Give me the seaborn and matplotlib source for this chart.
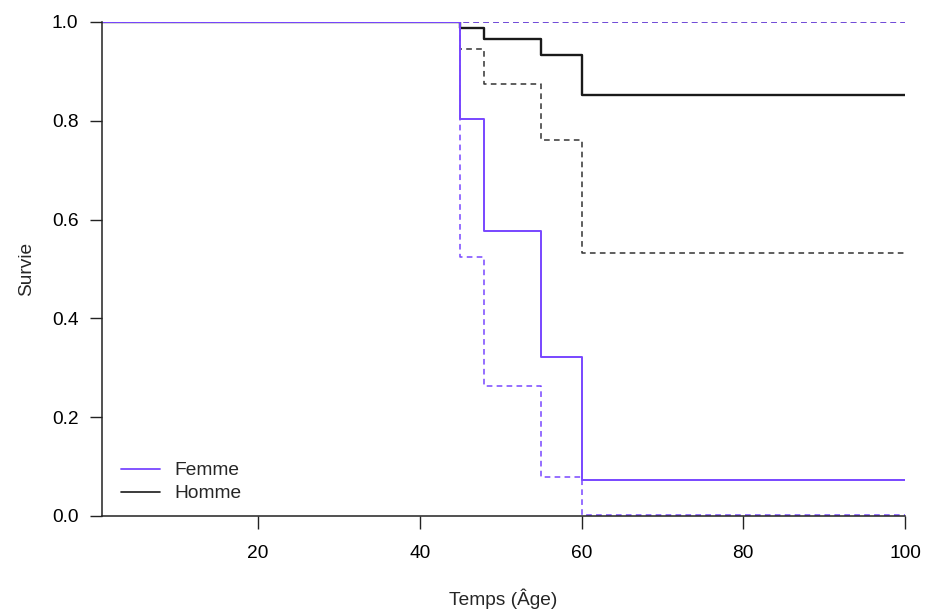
import numpy as np
import pandas as pd
import matplotlib
matplotlib.use("Agg")
import matplotlib.pyplot as plt
from matplotlib.lines import Line2D
import seaborn as sns

# ---- data ----
times = [0, 45, 48, 55, 60, 100]
homme_surv = [1.0, 0.988, 0.966, 0.933, 0.853, 0.853]
homme_lower = [1.0, 0.945, 0.874, 0.762, 0.532, 0.532]
homme_upper = [1.0, 1.0, 1.0, 1.0, 1.0, 1.0]
femme_surv = [1.0, 0.804, 0.577, 0.322, 0.073, 0.073]
femme_lower = [1.0, 0.524, 0.264, 0.079, 0.003, 0.003]
femme_upper = [1.0, 1.0, 1.0, 1.0, 1.0, 1.0]
groups = ["Femme", "Homme"]
x_ticks = [20, 40, 60, 80, 100]
y_ticks = [0.0, 0.2, 0.4, 0.6, 0.8, 1.0]

sns.set_style("ticks")
plt.rcParams['font.family'] = ['Liberation Sans', 'DejaVu Sans']

PURPLE = "#7846ff"
BLACK = "#1a1a1a"
DASH_BLACK = "#333333"

fig = plt.figure(figsize=(9.25, 6.12), dpi=100)
ax = fig.add_axes([102 / 925, 1 - 516 / 612, (905 - 102) / 925, (516 - 22) / 612])

series = [
    ("Homme", "upper", homme_upper, DASH_BLACK, True, 1.1),
    ("Homme", "lower", homme_lower, DASH_BLACK, True, 1.1),
    ("Homme", "surv", homme_surv, BLACK, False, 1.7),
    ("Femme", "upper", femme_upper, PURPLE, True, 1.1),
    ("Femme", "lower", femme_lower, PURPLE, True, 1.1),
    ("Femme", "surv", femme_surv, PURPLE, False, 1.4),
]

for grp, kind, vals, col, dashed, lw in series:
    df = pd.DataFrame({"Temps": times, "Survie": vals})
    kw = dict(linestyle=(0, (3.7, 2.8))) if dashed else {}
    sns.lineplot(data=df, x="Temps", y="Survie", ax=ax, color=col,
                 estimator=None, drawstyle="steps-post", linewidth=lw,
                 legend=False, **kw)

ax.set_xlim(0.7, 100)
ax.set_ylim(0, 1)
ax.set_xticks(x_ticks)
ax.set_yticks(y_ticks)
ax.set_yticklabels([f"{v:.1f}" for v in y_ticks])
ax.tick_params(axis="both", direction="out", length=9, width=1.0,
               labelsize=13.8, colors="#222222", labelcolor="black")
ax.tick_params(axis="y", pad=8)
ax.tick_params(axis="x", pad=12)
for s in ["top", "right"]:
    ax.spines[s].set_visible(False)
for s in ["left", "bottom"]:
    ax.spines[s].set_linewidth(1.1)
    ax.spines[s].set_color("#222222")

ax.set_xlabel("Temps (Âge)", fontsize=13.8, labelpad=19)
ax.set_ylabel("Survie", fontsize=13.8, labelpad=12)

handles = [Line2D([0], [0], color=PURPLE, lw=1.3),
           Line2D([0], [0], color=BLACK, lw=1.2)]
ax.legend(handles, groups, loc="lower left", frameon=False,
          bbox_to_anchor=(0.0, -0.011), fontsize=13.8, handlelength=2.0,
          handletextpad=0.75, labelspacing=0.28, borderaxespad=0.6)

fig.savefig("out.png", dpi=100)
